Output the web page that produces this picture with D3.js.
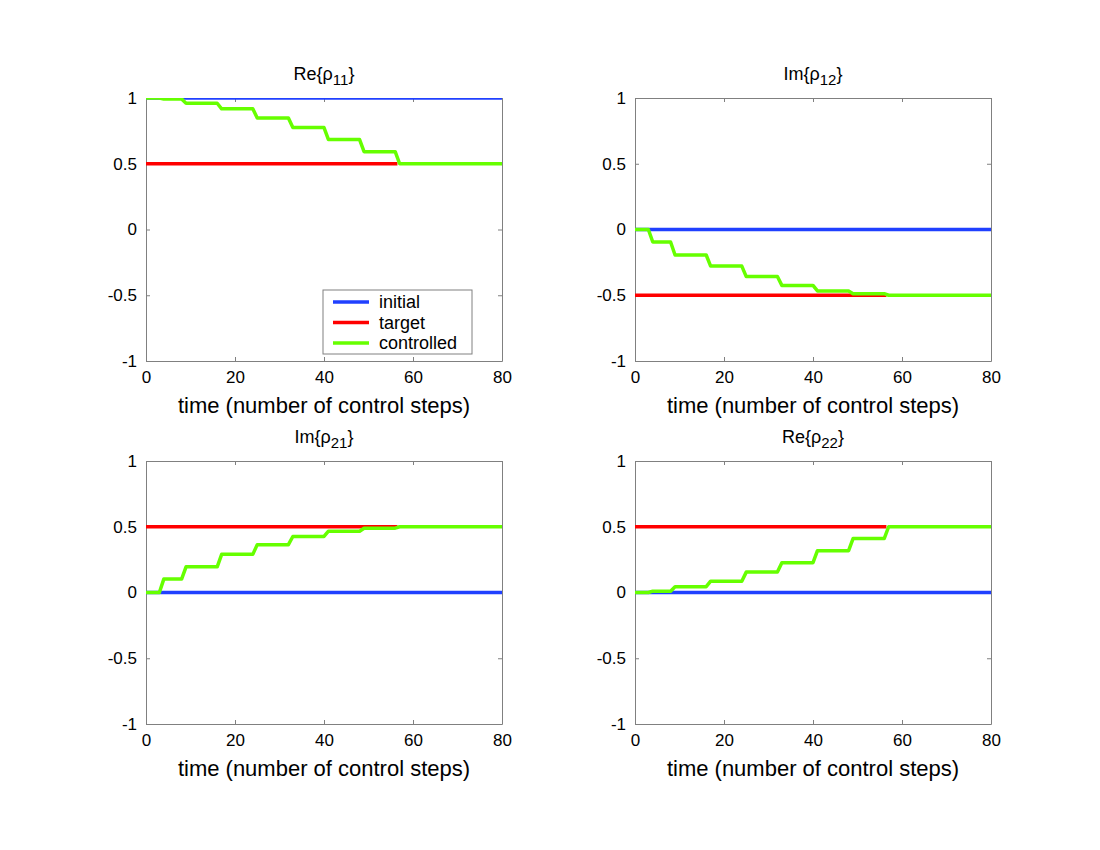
<!DOCTYPE html>
<html>
<head>
<meta charset="utf-8">
<script src="https://cdn.jsdelivr.net/npm/d3@7"></script>
<style>
  body { margin: 0; background: #fff; }
  text { font-family: "Liberation Sans", Arial, sans-serif; fill: #000; }
</style>
</head>
<body>
<svg width="1100" height="850"></svg>
<script>
// data
const timeTicks = [0, 20, 40, 60, 80];
const valueTicks = [-1, -0.5, 0, 0.5, 1];
const timeEnd = 80;
const targetEnd = 56.5;
// control step where the controlled value starts moving to its next level
const stepTimes = [3, 8, 16, 24, 32, 40, 48, 56];

const titles = [["Re", "11"], ["Im", "12"], ["Im", "21"], ["Re", "22"]];
const initialValues = [1, 0, 0, 0];
const targetValues = [0.5, -0.5, 0.5, 0.5];
const re11 = [1, 0.993, 0.96, 0.918, 0.848, 0.775, 0.684, 0.592, 0.5];
const im12 = [0, -0.095, -0.194, -0.278, -0.358, -0.425, -0.467, -0.488, -0.5];
const im21 = [0, 0.102, 0.195, 0.29, 0.364, 0.426, 0.466, 0.489, 0.5];
const re22 = [0, 0.01, 0.044, 0.086, 0.155, 0.227, 0.318, 0.41, 0.5];
const controlled = [re11, im12, im21, re22];

const legendNames = ["initial", "target", "controlled"];
const colors = ["#2040ff", "#ff0000", "#66ff00"];

const w = 356;
const h = 263;
const cols = [146, 635];
const rows = [98, 461];

const svg = d3.select("svg");

const x = d3.scaleLinear().domain([0, timeEnd]).range([0, w]);
const y = d3.scaleLinear().domain([-1, 1]).range([h, 0]);

const line = d3.line().x(d => x(d[0])).y(d => y(d[1]));

svg.append("defs").append("clipPath").attr("id", "plotArea")
  .append("rect").attr("width", w).attr("height", h);

function stepPoints(levels) {
  const pts = [];
  levels.forEach((v, i) => {
    const t0 = i === 0 ? 0 : stepTimes[i - 1] + 1;
    const t1 = i < stepTimes.length ? stepTimes[i] : timeEnd;
    pts.push([t0, v], [t1, v]);
  });
  return pts;
}

const fmt = d => String(d);

titles.forEach((title, k) => {
  const g = svg.append("g")
    .attr("transform", `translate(${cols[k % 2]}, ${rows[Math.floor(k / 2)]})`);

  // axes, ticks pointing inwards
  g.append("g").attr("class", "ax")
    .attr("transform", `translate(0, ${h})`)
    .call(d3.axisBottom(x).tickValues(timeTicks).tickSize(-4).tickSizeOuter(0).tickPadding(10).tickFormat(fmt));
  g.append("g").attr("class", "ax")
    .call(d3.axisLeft(y).tickValues(valueTicks).tickSize(-4).tickSizeOuter(0).tickPadding(9).tickFormat(fmt));
  g.append("g").attr("class", "ax")
    .call(d3.axisTop(x).tickValues(timeTicks).tickSize(-4).tickSizeOuter(0).tickFormat(""));
  g.append("g").attr("class", "ax")
    .attr("transform", `translate(${w}, 0)`)
    .call(d3.axisRight(y).tickValues(valueTicks).tickSize(-4).tickSizeOuter(0).tickFormat(""));

  g.selectAll(".ax path, .ax line").attr("stroke", "#808080");
  g.selectAll(".ax text").attr("font-size", 17).attr("fill", "#000")
    .style("font-family", "'Liberation Sans', Arial, sans-serif");

  // lines, clipped to the axes box
  const lines = g.append("g").attr("clip-path", "url(#plotArea)");
  lines.append("path")
    .datum([[0, initialValues[k]], [timeEnd, initialValues[k]]])
    .attr("d", line).attr("fill", "none")
    .attr("stroke", colors[0]).attr("stroke-width", 3.5);
  lines.append("path")
    .datum([[0, targetValues[k]], [targetEnd, targetValues[k]]])
    .attr("d", line).attr("fill", "none")
    .attr("stroke", colors[1]).attr("stroke-width", 3.5);
  lines.append("path")
    .datum(stepPoints(controlled[k]))
    .attr("d", line).attr("fill", "none")
    .attr("stroke", colors[2]).attr("stroke-width", 3.5)
    .attr("stroke-linejoin", "round");

  // title with subscript
  const t = g.append("text")
    .attr("x", w / 2)
    .attr("y", -18)
    .attr("text-anchor", "middle")
    .attr("font-size", 18);
  t.append("tspan").text(title[0] + "{\u03c1");
  t.append("tspan").attr("font-size", 15).attr("dy", 5).text(title[1]);
  t.append("tspan").attr("dy", -5).text("}");

  g.append("text")
    .attr("x", w / 2)
    .attr("y", h + 52)
    .attr("text-anchor", "middle")
    .attr("font-size", 22)
    .text("time (number of control steps)");

  if (k === 0) {
    const lg = g.append("g").attr("transform", `translate(${323 - cols[0]}, ${290 - rows[0]})`);
    lg.append("rect")
      .attr("width", 149).attr("height", 64)
      .attr("fill", "#fff").attr("stroke", "#808080");
    legendNames.forEach((name, i) => {
      lg.append("line")
        .attr("x1", 10).attr("x2", 46)
        .attr("y1", 12 + i * 20.5).attr("y2", 12 + i * 20.5)
        .attr("stroke", colors[i]).attr("stroke-width", 3.5);
      lg.append("text")
        .attr("x", 56).attr("y", 12 + i * 20.5 + 6)
        .attr("font-size", 18)
        .text(name);
    });
  }
});
</script>
</body>
</html>
